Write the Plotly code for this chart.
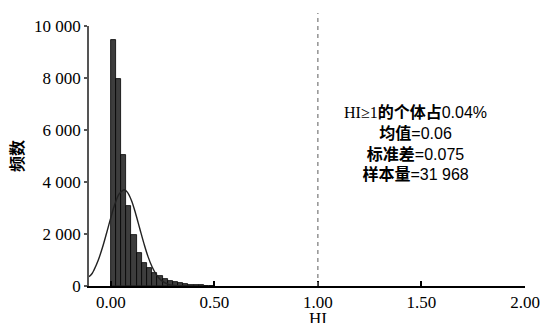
import plotly.graph_objects as go

# ---- data ----
bin_width = 0.025
bin_start = 0.0
bin_counts = [9470, 7970, 5030, 3090, 1960, 1270, 880, 680, 500, 380,
              270, 190, 140, 100, 70, 50, 35, 25, 15, 10]

# fitted normal curve
curve_x = [-0.105, -0.09, -0.08, -0.06, -0.04, -0.02, 0.00, 0.02, 0.04, 0.06, 0.065,
           0.08, 0.10, 0.12, 0.14, 0.16, 0.18, 0.20, 0.22, 0.24, 0.26, 0.28,
           0.30, 0.32, 0.34, 0.36, 0.40]
curve_y = [360, 480, 630, 1000, 1480, 2040, 2620, 3150, 3530, 3690, 3700,
           3610, 3290, 2790, 2210, 1640, 1130, 730, 440, 245, 128, 63,
           29, 12, 5, 2, 0]

y_tickvals = [0, 2000, 4000, 6000, 8000, 10000]
y_ticktext = ["0", "2 000", "4 000", "6 000", "8 000", "10 000"]
x_tickvals = [0.0, 0.5, 1.0, 1.5, 2.0]
x_ticktext = ["0.00", "0.50", "1.00", "1.50", "2.00"]

ref_line_x = 1.0
stats_lines = [
    ("HI≥1", "的个体占", "0.04%"),
    ("", "均值", "=0.06"),
    ("", "标准差", "=0.075"),
    ("", "样本量", "=31 968"),
]

bin_centers = [bin_start + bin_width * (i + 0.5) for i in range(len(bin_counts))]

fig = go.Figure()
fig.add_trace(go.Bar(
    x=bin_centers, y=bin_counts, width=bin_width,
    marker=dict(color="#3d3d3d", line=dict(color="#000000", width=0.8)),
    showlegend=False,
))
fig.add_trace(go.Scatter(
    x=curve_x, y=curve_y, mode="lines",
    line=dict(color="#222222", width=1.4, shape="spline"),
    showlegend=False,
))

fig.add_shape(type="line", xref="x", yref="paper",
              x0=ref_line_x, x1=ref_line_x, y0=0, y1=1.05,
              line=dict(color="#777777", width=1.2, dash="4px,4px"))

serif = "Liberation Serif"
sans = "Liberation Sans"
cjk = "Noto Sans CJK SC"

def line_html(a, b, c):
    s = ""
    if a:
        s += f'<span style="font-family:{serif}">{a}</span>'
    s += f'<span style="font-family:{cjk};font-weight:bold">{b}</span>'
    s += f'<span style="font-family:{sans}">{c}</span>'
    return s

W, H = 540, 323
plot_left, plot_right, plot_top, plot_bottom = 89, 525, 25.5, 286  # px
L = plot_left
R = W - plot_right
T = plot_top
B = H - plot_bottom

ann_cx, ann_cy = 415, 142  # px
fig.add_annotation(
    x=(ann_cx - plot_left) / (plot_right - plot_left),
    y=(plot_bottom - ann_cy) / (plot_bottom - plot_top),
    xref="paper", yref="paper", showarrow=False,
    xanchor="center", yanchor="middle",
    text="<br>".join(line_html(*l) for l in stats_lines),
    font=dict(size=16, color="#000000"), align="center",
)

# x axis title "HI"
fig.add_annotation(x=ref_line_x, y=0, xref="x", yref="paper", yshift=-32,
                   yanchor="middle", text="HI", showarrow=False,
                   font=dict(family=serif, size=17, color="#000000"))

fig.update_layout(
    width=W, height=H,
    margin=dict(l=L, r=R, t=T, b=B),
    plot_bgcolor="white", paper_bgcolor="white",
    bargap=0,
    font=dict(family=serif, size=17, color="#000000"),
    xaxis=dict(range=[-0.105, 2.0], tickvals=x_tickvals, ticktext=x_ticktext,
               ticks="inside", ticklen=5, tickcolor="#000000", tickwidth=1.5,
               showline=True, linecolor="#000000", linewidth=1.5,
               showgrid=False, zeroline=False, automargin=False,
               tickfont=dict(family=serif, size=17)),
    yaxis=dict(range=[0, 10000], tickvals=y_tickvals, ticktext=y_ticktext,
               ticks="outside", ticklen=3, tickcolor="#555555", tickwidth=1.5,
               showline=True, linecolor="#555555", linewidth=1.5,
               showgrid=False, zeroline=False, automargin=False,
               tickfont=dict(family=serif, size=17),
               title=dict(text="<b>频数</b>", font=dict(family=cjk, size=16), standoff=6)),
)

fig.write_html(
    "out.html",
    config={"displayModeBar": False},
    post_script="document.body.style.margin='0';document.body.style.overflow='hidden';",
)
